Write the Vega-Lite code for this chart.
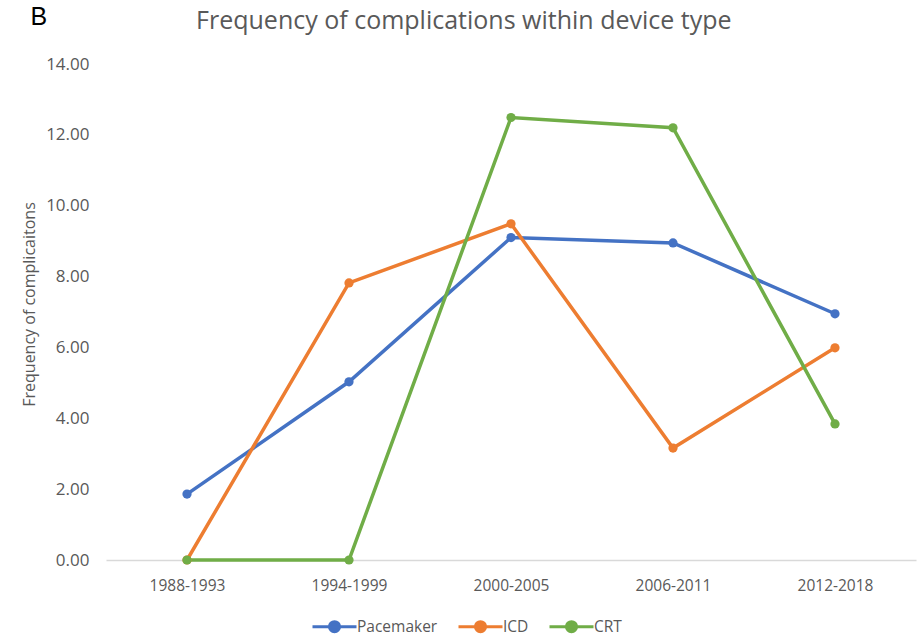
{
  "$schema": "https://vega.github.io/schema/vega-lite/v6.json",
  "width": 810,
  "height": 496,
  "autosize": "none",
  "padding": {"left": 106, "top": 64, "right": 4, "bottom": 77},
  "background": "white",
  "title": {
    "text": "Frequency of complications within device type",
    "anchor": "middle",
    "frame": "bounds",
    "font": "Open Sans",
    "fontSize": 25,
    "fontWeight": "normal",
    "color": "#595959",
    "baseline": "alphabetic",
    "offset": -50,
    "dx": -5
  },
  "config": {
    "view": {"stroke": null},
    "font": "Open Sans"
  },
  "data": {
    "values": [
      {"period": "1988-1993", "device": "Pacemaker", "freq": 1.86},
      {"period": "1994-1999", "device": "Pacemaker", "freq": 5.03},
      {"period": "2000-2005", "device": "Pacemaker", "freq": 9.1},
      {"period": "2006-2011", "device": "Pacemaker", "freq": 8.95},
      {"period": "2012-2018", "device": "Pacemaker", "freq": 6.95},
      {"period": "1988-1993", "device": "ICD", "freq": 0},
      {"period": "1994-1999", "device": "ICD", "freq": 7.82},
      {"period": "2000-2005", "device": "ICD", "freq": 9.49},
      {"period": "2006-2011", "device": "ICD", "freq": 3.16},
      {"period": "2012-2018", "device": "ICD", "freq": 5.99},
      {"period": "1988-1993", "device": "CRT", "freq": 0},
      {"period": "1994-1999", "device": "CRT", "freq": 0},
      {"period": "2000-2005", "device": "CRT", "freq": 12.49},
      {"period": "2006-2011", "device": "CRT", "freq": 12.2},
      {"period": "2012-2018", "device": "CRT", "freq": 3.84}
    ]
  },
  "layer": [
    {
      "mark": {"type": "line", "strokeWidth": 3.5, "point": {"size": 85, "filled": true, "opacity": 1}},
      "encoding": {
        "x": {
          "field": "period",
          "type": "ordinal",
          "scale": {"type": "point", "padding": 0.5},
          "axis": {
            "title": null,
            "labelAngle": 0,
            "labelFont": "Open Sans",
            "labelFontSize": 15.5,
            "labelColor": "#595959",
            "labelPadding": 18,
            "ticks": false,
            "domain": true,
            "domainColor": "#d9d9d9",
            "domainWidth": 1.5,
            "grid": false
          }
        },
        "y": {
          "field": "freq",
          "type": "quantitative",
          "scale": {"domain": [0, 14], "nice": false},
          "axis": {
            "title": "Frequency of complicaitons",
            "titleFont": "Open Sans",
            "titleFontSize": 16,
            "titleFontWeight": "normal",
            "titleColor": "#595959",
            "titlePadding": 8,
            "titleY": 240,
            "values": [0, 2, 4, 6, 8, 10, 12, 14],
            "format": ".2f",
            "labelFont": "Open Sans",
            "labelFontSize": 17,
            "labelColor": "#595959",
            "labelPadding": 17,
            "ticks": false,
            "domain": false,
            "grid": false
          }
        },
        "color": {
          "field": "device",
          "type": "nominal",
          "scale": {"domain": ["Pacemaker", "ICD", "CRT"], "range": ["#4472C4", "#ED7D31", "#70AD47"]},
          "legend": {
            "orient": "none",
            "legendX": 205,
            "legendY": 539,
            "direction": "horizontal",
            "title": null,
            "symbolType": "M-1,0L1,0M0.23,0A0.23,0.23,0,1,1,-0.23,0A0.23,0.23,0,1,1,0.23,0Z",
            "symbolSize": 1936,
            "symbolStrokeWidth": 3,
            "labelFont": "Open Sans",
            "labelFontSize": 15.5,
            "labelColor": "#595959",
            "labelOffset": -1,
            "columnPadding": 14
          }
        }
      }
    },
    {
      "mark": {"type": "point", "opacity": 0},
      "encoding": {
        "x": {
          "field": "period",
          "type": "ordinal",
          "axis": {
            "orient": "top",
            "title": "B",
            "titleFont": "Liberation Sans",
            "titleFontSize": 25,
            "titleFontWeight": "normal",
            "titleColor": "#000000",
            "titleAnchor": "start",
            "titleAlign": "left",
            "titleBaseline": "alphabetic",
            "titleX": -76,
            "titleY": -40,
            "labels": false,
            "ticks": false,
            "domain": false,
            "grid": false
          }
        },
        "y": {"field": "freq", "type": "quantitative"}
      }
    }
  ],
  "resolve": {"axis": {"x": "independent"}}
}
